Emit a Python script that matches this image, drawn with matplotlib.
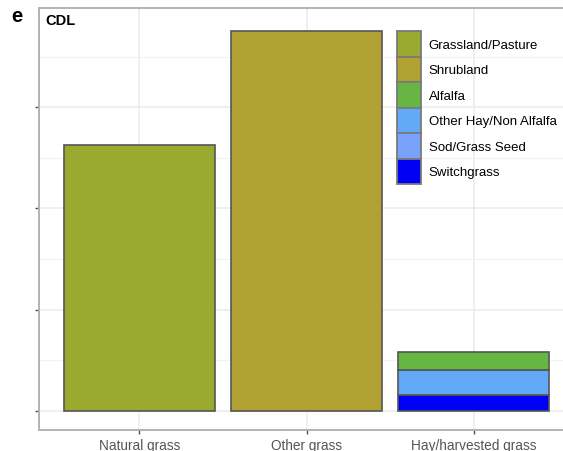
import matplotlib
matplotlib.use("Agg")
import matplotlib.pyplot as plt
from matplotlib.patches import Patch
import numpy as np

plt.rcParams['font.family'] = ['Liberation Sans', 'DejaVu Sans']

categories = ["Natural grass", "Other grass", "Hay/harvested grass"]
classes = ["Grassland/Pasture", "Shrubland", "Alfalfa",
           "Other Hay/Non Alfalfa", "Sod/Grass Seed", "Switchgrass"]
colors = ["#9aaa31", "#b0a132", "#67b543", "#62aaf7", "#78a2fb", "#0000f5"]

# area per class in each category (stack order bottom -> top)
grassland = [2.63, 0.0, 0.0]
shrubland = [0.0, 3.755, 0.0]
switchgrass = [0.0, 0.0, 0.155]
sod_seed = [0.0, 0.0, 0.004]
other_hay = [0.0, 0.0, 0.248]
alfalfa = [0.0, 0.0, 0.172]

fig = plt.figure(figsize=(5.63, 4.52), dpi=100)
ax = fig.add_axes([39 / 563, 1 - 430.5 / 452, (574 - 39) / 563, (430.5 - 9) / 452])

x = np.arange(1, len(categories) + 1)
edge = "#555555"
stack = [(grassland, 0), (shrubland, 1), (switchgrass, 5),
         (sod_seed, 4), (other_hay, 3), (alfalfa, 2)]
bottom = np.zeros(len(categories))
for vals, ci in stack:
    vals = np.array(vals)
    mask = vals > 0
    ax.bar(x[mask], vals[mask], 0.9, bottom=bottom[mask], color=colors[ci],
           edgecolor=edge, linewidth=1.2, zorder=3)
    bottom += vals

ax.set_xlim(0.4, 3.6)
ax.set_ylim(-0.183, 3.98)
ax.set_xticks(x)
ax.set_xticklabels(categories, fontsize=9.8, color="#555555")
ax.set_yticks([0, 1, 2, 3])
ax.set_yticklabels([])
ax.set_yticks([0.5, 1.5, 2.5, 3.5], minor=True)
ax.tick_params(axis="y", which="minor", length=0)
ax.tick_params(axis="both", which="major", length=2.7, width=1, color="#4d4d4d")
ax.tick_params(axis="x", pad=3.3)
ax.grid(True, which="major", color="#ebebeb", linewidth=1.1, zorder=0)
ax.grid(True, which="minor", axis="y", color="#f2f2f2", linewidth=0.8, zorder=0)
ax.set_axisbelow(True)
for s in ax.spines.values():
    s.set_color("#b3b3b3")
    s.set_linewidth(1.4)

fig.text(45 / 563, 1 - 24.7 / 452, "CDL", fontsize=10.5,
         fontweight="bold", va="baseline", ha="left")
fig.text(11.5 / 563, 1 - 22 / 452, "e", fontsize=14.5, fontweight="bold",
         va="baseline", ha="left")

handles = [Patch(facecolor=c, edgecolor="#7a7a7a", linewidth=1.3) for c in colors]
fs = 9.5
leg = fig.legend(handles, classes, loc="upper left",
                 bbox_to_anchor=(396.5 / 563, 1 - 32 / 452),
                 bbox_transform=fig.transFigure, frameon=False,
                 fontsize=fs, handlelength=1.85, handleheight=2.6,
                 labelspacing=0.0, handletextpad=0.6, borderpad=0,
                 borderaxespad=0)

fig.savefig("out.png", dpi=100)
